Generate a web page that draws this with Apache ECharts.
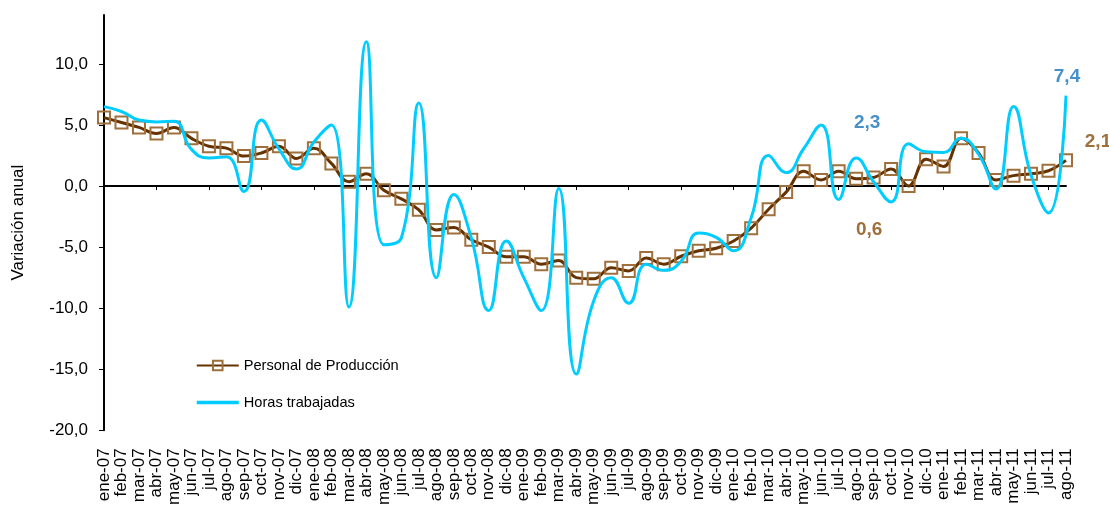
<!DOCTYPE html>
<html>
<head>
<meta charset="utf-8">
<script src="https://cdn.jsdelivr.net/npm/echarts@6/dist/echarts.min.js"></script>
<style>
  html, body { margin: 0; padding: 0; background: #ffffff; }
  #chart { width: 1109px; height: 508px; }
</style>
</head>
<body>
<div id="chart"></div>
<script>
const months = [
  'ene-07','feb-07','mar-07','abr-07','may-07','jun-07','jul-07','ago-07','sep-07','oct-07','nov-07','dic-07',
  'ene-08','feb-08','mar-08','abr-08','may-08','jun-08','jul-08','ago-08','sep-08','oct-08','nov-08','dic-08',
  'ene-09','feb-09','mar-09','abr-09','may-09','jun-09','jul-09','ago-09','sep-09','oct-09','nov-09','dic-09',
  'ene-10','feb-10','mar-10','abr-10','may-10','jun-10','jul-10','ago-10','sep-10','oct-10','nov-10','dic-10',
  'ene-11','feb-11','mar-11','abr-11','may-11','jun-11','jul-11','ago-11'
];
const personalProduccion = [
  5.6, 5.2, 4.8, 4.3, 4.8, 3.9, 3.25, 3.1, 2.45, 2.7, 3.25, 2.25,
  3.1, 1.85, 0.35, 1.0, -0.35, -1.05, -1.95, -3.6, -3.4, -4.4, -5.0, -5.8,
  -5.8, -6.4, -6.1, -7.5, -7.6, -6.7, -6.95, -5.9, -6.4, -5.75, -5.3, -5.1,
  -4.5, -3.45, -1.9, -0.5, 1.2, 0.5, 1.2, 0.6, 0.7, 1.4, 0.0, 2.2,
  1.6, 3.9, 2.7, 0.5, 0.85, 1.0, 1.25, 2.1
];
const horasTrabajadas = [
  6.5, 6.1, 5.4, 5.25, 5.3, 3.0, 2.3, 2.4, -0.45, 5.4, 3.05, 1.4,
  3.6, 5.0, -9.9, 11.8, -4.8, -4.25, 6.8, -7.5, -0.7, -4.25, -10.2, -4.5,
  -7.5, -10.2, -0.2, -15.4, -9.4, -7.5, -9.6, -6.4, -6.9, -6.15, -3.85, -4.2,
  -5.3, -2.6, 2.5, 1.1, 3.05, 5.0, -1.1, 2.3, 0.35, -1.3, 3.45, 2.8,
  2.75, 3.9, 2.6, -0.25, 6.5, 0.9, -2.2, 7.4
];
const yTicks = [-20, -15, -10, -5, 0, 5, 10];
// indices of the months that carry a value label
const labelledIdx = [43, 55];

const fmt = v => v.toFixed(1).replace('.', ',');
const font = 'Liberation Sans, Arial, sans-serif';
const brownLabelColor = '#A0703C';
const blueLabelColor = '#1874BC';

function labelCfg(offset, color) {
  return {
    show: true,
    position: 'top',
    offset: offset,
    formatter: p => fmt(Array.isArray(p.value) ? p.value[1] : p.value),
    color: color,
    fontFamily: font,
    fontWeight: 'bold',
    fontSize: 19
  };
}

const brownOffsets = { 43: [13, 73], 55: [32, 3] };
const blueOffsets = { 43: [11, -21], 55: [1, -4] };

const personalData = personalProduccion.map((v, i) =>
  brownOffsets[i] ? { value: v, label: labelCfg(brownOffsets[i], brownLabelColor) } : v
);
const horasLabelData = labelledIdx.map(i => ({
  value: [months[i], horasTrabajadas[i]],
  label: labelCfg(blueOffsets[i], blueLabelColor)
}));

const chart = echarts.init(document.getElementById('chart'), null, { renderer: 'canvas' });

chart.setOption({
  animation: false,
  backgroundColor: '#ffffff',
  textStyle: { fontFamily: font },
  grid: { left: 104, right: 43, top: 15, bottom: 75, containLabel: false },
  legend: {
    orient: 'vertical',
    left: 190,
    top: 353,
    itemWidth: 42,
    itemHeight: 12,
    itemGap: 22,
    textStyle: { fontFamily: font, fontSize: 14.6, color: '#000000' },
    data: [
      'Personal de Producción',
      {
        name: 'Horas trabajadas',
        itemStyle: { color: 'rgba(0,0,0,0)', borderWidth: 0, opacity: 0 },
        lineStyle: { color: '#00CCFF', width: 3.5 }
      }
    ]
  },
  xAxis: [
    {
      type: 'category',
      data: months,
      boundaryGap: false,
      axisLine: { onZero: true, lineStyle: { color: '#000000', width: 2 } },
      axisTick: { show: true, length: 4, lineStyle: { color: '#000000', width: 1 } },
      axisLabel: { show: false },
      splitLine: { show: false }
    },
    {
      type: 'category',
      data: months,
      boundaryGap: false,
      position: 'bottom',
      axisLine: { show: false, onZero: false },
      axisTick: { show: false },
      axisLabel: {
        show: true,
        interval: 0,
        rotate: 90,
        margin: 18,
        fontFamily: font,
        fontSize: 17,
        color: '#000000'
      },
      splitLine: { show: false }
    }
  ],
  yAxis: {
    type: 'value',
    min: -20,
    max: 14,
    interval: 5,
    name: 'Variación anual',
    nameLocation: 'middle',
    nameGap: 77,
    nameTextStyle: { fontFamily: font, fontSize: 17, color: '#000000' },
    axisLine: { show: true, lineStyle: { color: '#000000', width: 2 } },
    axisTick: { show: true, length: 5, lineStyle: { color: '#000000' } },
    axisLabel: {
      fontFamily: font,
      fontSize: 17,
      color: '#000000',
      margin: 16,
      showMaxLabel: false,
      formatter: v => (yTicks.indexOf(v) >= 0 ? fmt(v) : '')
    },
    splitLine: { show: false }
  },
  series: [
    {
      name: 'Personal de Producción',
      type: 'line',
      xAxisIndex: 0,
      data: personalData,
      smooth: 0.4,
      symbol: 'rect',
      symbolSize: 12,
      showAllSymbol: true,
      lineStyle: { color: '#663300', width: 3 },
      itemStyle: { color: 'rgba(255,255,255,0)', borderColor: '#A0703C', borderWidth: 2 },
      z: 2
    },
    {
      name: 'Horas trabajadas',
      type: 'line',
      xAxisIndex: 0,
      data: horasTrabajadas,
      smooth: 0.5,
      symbol: 'none',
      lineStyle: { color: '#00CCFF', width: 3 },
      itemStyle: { color: '#00CCFF' },
      z: 3
    },
    {
      name: 'Horas trabajadas etiquetas',
      type: 'scatter',
      xAxisIndex: 0,
      data: horasLabelData,
      symbolSize: 0,
      itemStyle: { color: 'rgba(0,0,0,0)' },
      silent: true,
      z: 4
    }
  ]
});
</script>
</body>
</html>
